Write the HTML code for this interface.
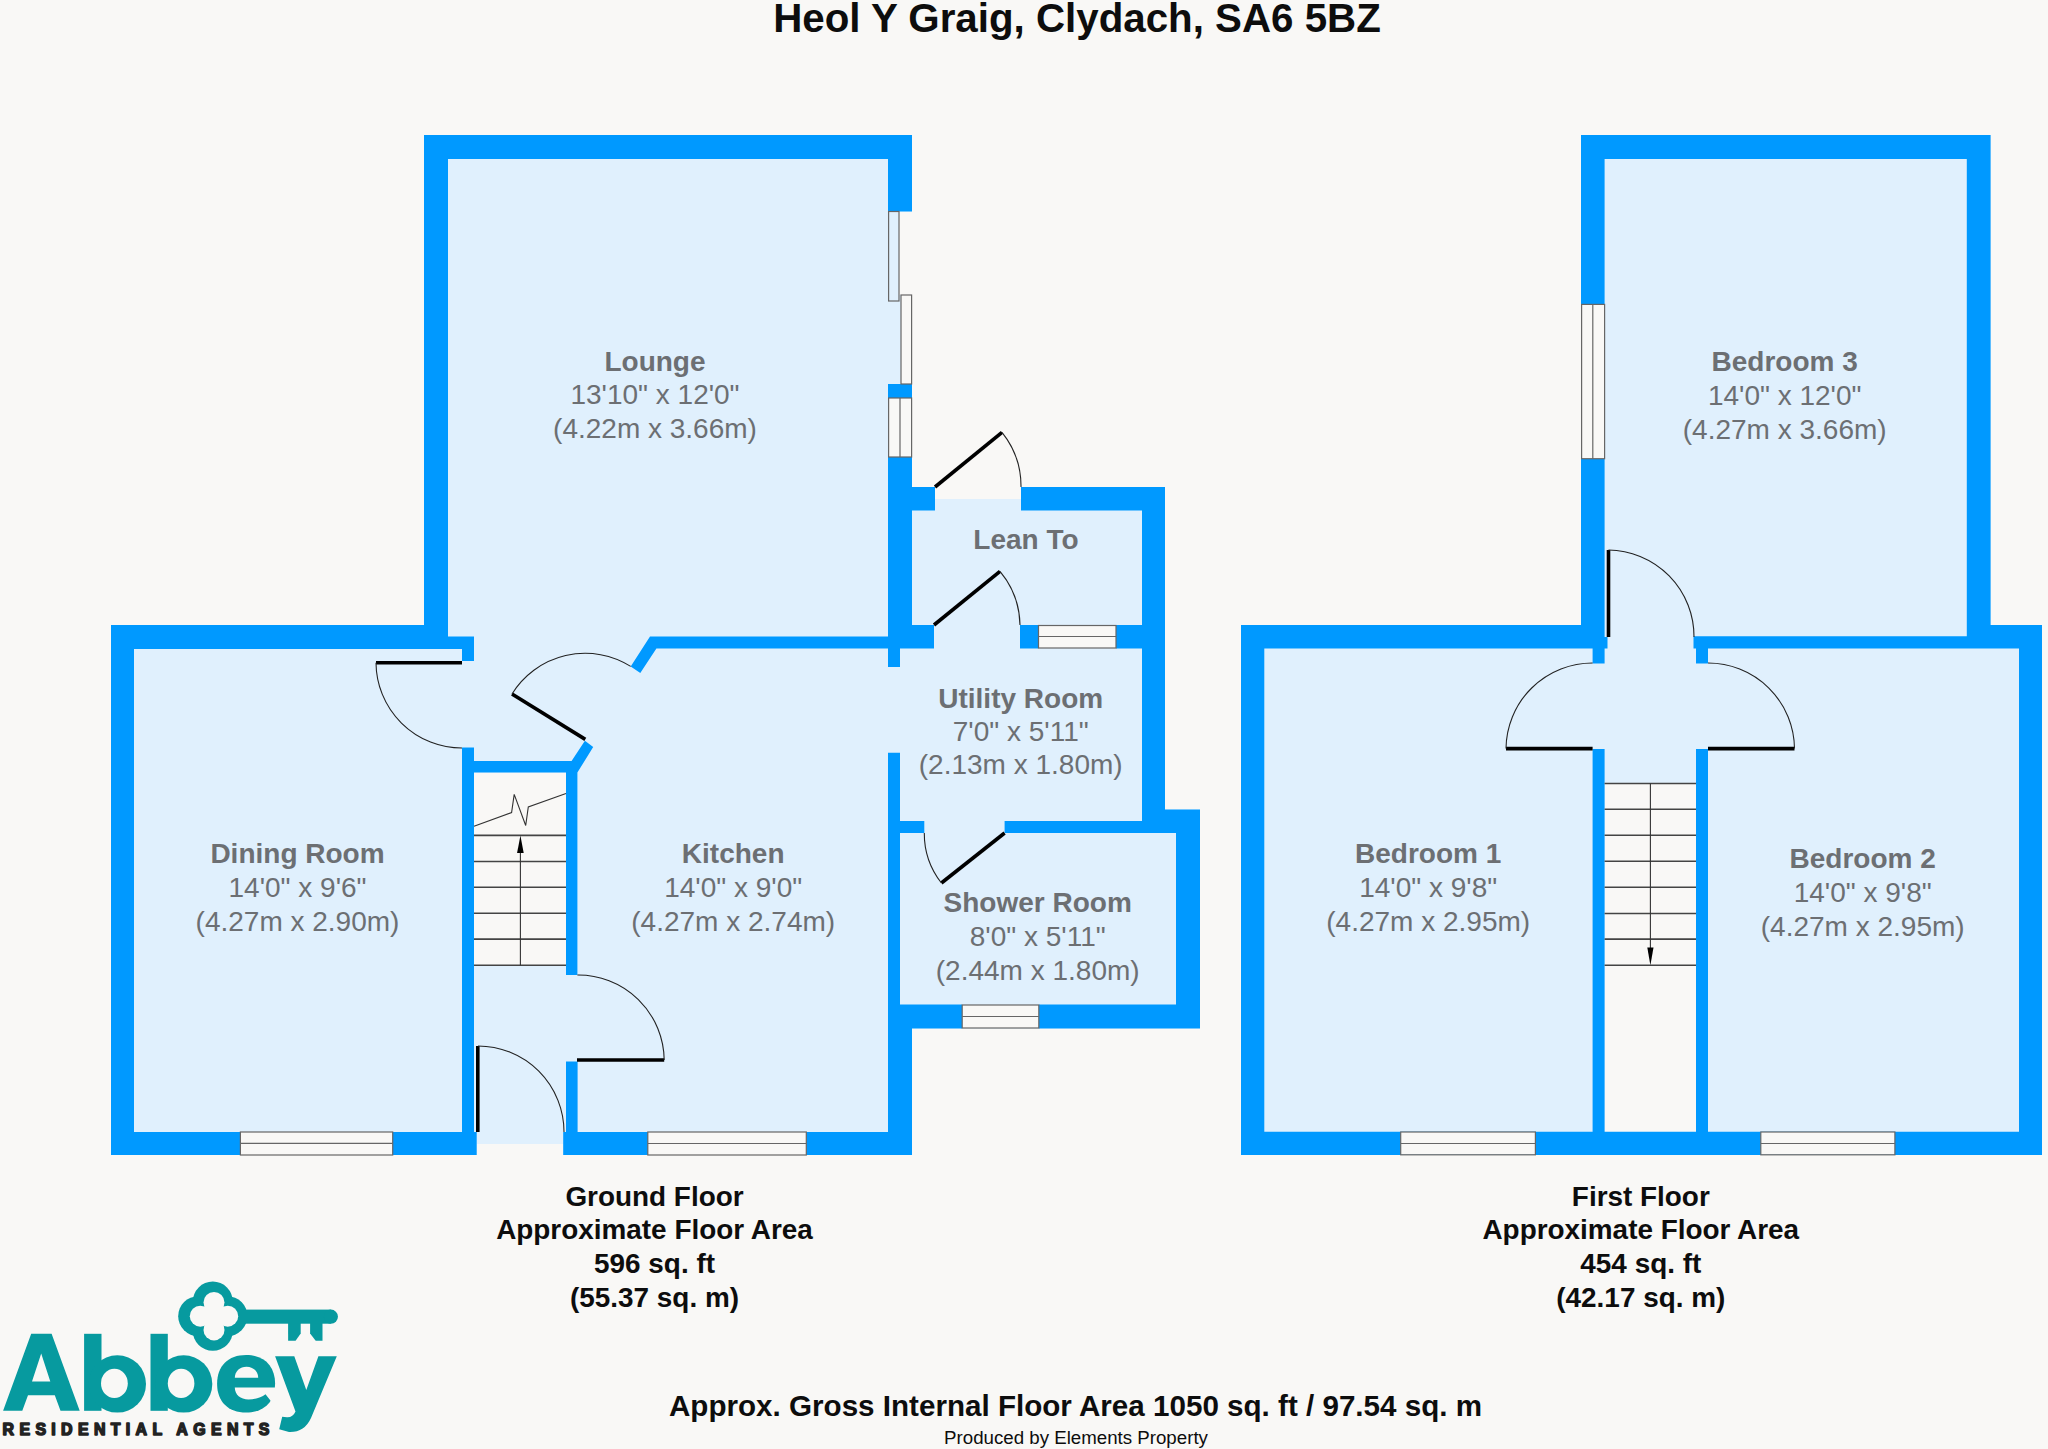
<!DOCTYPE html>
<html><head><meta charset="utf-8"><title>Heol Y Graig, Clydach, SA6 5BZ</title>
<style>
html,body{margin:0;padding:0;background:#f9f8f6;}
body{width:2048px;height:1449px;overflow:hidden;}
svg{display:block;}
.w{fill:#0099ff;}
.f{fill:#e0f0fd;}
.bg{fill:#f9f8f6;}
.win{fill:#f9f8f6;stroke:#666;stroke-width:1.2;}
.wl{stroke:#666;stroke-width:1.2;fill:none;}
.door{stroke:#000;stroke-width:3.6;fill:none;}
.arc{stroke:#222;stroke-width:1.1;fill:none;}
.st{stroke:#444;stroke-width:1.6;fill:none;}
.stc{stroke:#333;stroke-width:1.1;fill:none;}
.lbl{font-family:"Liberation Sans",sans-serif;fill:#6c6f73;text-anchor:middle;}
.b{font-weight:bold;}
.blk{font-family:"Liberation Sans",sans-serif;fill:#0d0d0d;text-anchor:middle;font-weight:bold;}
</style></head>
<body>
<svg width="2048" height="1449" viewBox="0 0 2048 1449">
<rect x="0" y="0" width="2048" height="1449" fill="#f9f8f6"/>

<!-- ===== GROUND FLOOR fills ===== -->
<g id="gf-fill">
<polygon class="f" points="424,135 912,135 912,487 1165,487 1165,809.4 1200,809.4 1200,1028.6 912,1028.6 912,1155 111,1155 111,625 424,625"/>
<!-- exterior door openings background parts -->
<rect class="bg" x="935" y="480" width="86" height="19"/>
<rect class="bg" x="476.7" y="1144" width="86.5" height="12"/>
<!-- right of sliding panel W1 -->
<rect class="bg" x="899" y="211.5" width="14" height="83.5"/>
<!-- stairs -->
<rect class="bg" x="474" y="772.6" width="92" height="192.6"/>
</g>

<g id="gf-walls">
<path class="w" d="M424,135h488v24h-488ZM424,135h24v514h-24ZM888,135h24v76.5h-24ZM888,384h24v14h-24ZM888,457h24v191.5h-24ZM912,487h23v23.5h-23ZM1021,487h144v23.5h-144ZM1142,487h23v334h-23ZM912,625h22v23.5h-22ZM1020,625h18.5v23.5h-18.5ZM1116,625h26v23.5h-26ZM888,648h12v19h-12ZM888,752.7h12v276h-12ZM900,821h24.3v12h-24.3ZM1004.6,821h195.4v12h-195.4ZM1142,809.4h58v23.6h-58ZM1176,809.4h24v219.2h-24ZM888,1004.6h74.2v24h-74.2ZM1038.8,1004.6h161.2v24h-161.2ZM888,1004.6h24v150.4h-24ZM111,625h337v24h-337ZM448,636.5h26v12.5h-26ZM462,648h12v13h-12ZM111,625h23v530h-23ZM111,1132h365.7v23h-365.7ZM462,747.4h12v385h-12ZM566,761h11.4v214h-11.4ZM566,1061.6h11.6v71h-11.6ZM563.2,1132h348.8v23h-348.8ZM650,636.5L888,636.5L888,648.5L656.4,648.5L640.3,673L630.7,666.4ZM474,761L571.6,761L584.9,740.8L593.2,746.9L577.4,772.6L474,772.6Z"/>
<!-- lounge -->
<!-- lean-to -->
<!-- utility / shower -->
<!-- kitchen top thin wall -->
<!-- dining -->
<!-- stairs -->
<!-- kitchen bottom -->
<!-- windows -->
<rect x="888.6" y="211.5" width="10.4" height="89.5" fill="#e0f0fd" stroke="#666" stroke-width="1.2"/>
<rect class="win" x="901" y="295" width="10.6" height="89"/>
<rect class="win" x="888.6" y="398" width="23" height="59"/>
<line class="wl" x1="900" y1="398" x2="900" y2="457"/>
<rect class="win" x="1038.5" y="625.5" width="77.5" height="22.5"/>
<line class="wl" x1="1038.5" y1="636.5" x2="1116" y2="636.5"/>
<rect class="win" x="962.2" y="1005" width="76.6" height="23"/>
<line class="wl" x1="962.2" y1="1016.5" x2="1038.8" y2="1016.5"/>
<rect class="win" x="240.4" y="1132" width="152.3" height="23"/>
<line class="wl" x1="240.4" y1="1143.4" x2="392.7" y2="1143.4"/>
<rect class="win" x="647.8" y="1132" width="158.5" height="23"/>
<line class="wl" x1="647.8" y1="1143.5" x2="806.3" y2="1143.5"/>
</g>

<g id="gf-details">
<!-- stairs treads -->
<path class="st" d="M474,835.4H566M474,861.5H566M474,887.3H566M474,913.3H566M474,939.1H566M474,965.2H566"/>
<line class="stc" x1="520.4" y1="852" x2="520.4" y2="965.2"/>
<polygon points="520.4,835.4 517.1,853 523.7,853" fill="#000"/>
<polyline class="stc" points="474,826.3 511.6,812.6 514.2,794.4 525.7,825.5 528.3,807 566,793.4"/>
<!-- doors -->
<line class="door" x1="935" y1="487" x2="1002" y2="432.3"/>
<path class="arc" d="M1002,432.3 A86,86 0 0 1 1021,487"/>
<line class="door" x1="934" y1="625" x2="1000" y2="571.3"/>
<path class="arc" d="M1000,571.3 A86,86 0 0 1 1020,625"/>
<line class="door" x1="1004.6" y1="833" x2="941.4" y2="883"/>
<path class="arc" d="M924.3,833 A80.3,80.3 0 0 0 941.4,883"/>
<line class="door" x1="376" y1="662.7" x2="462" y2="662.7"/>
<path class="arc" d="M376,662.7 A86,86 0 0 0 462,748"/>
<line class="door" x1="512" y1="694" x2="585.3" y2="739.4"/>
<path class="arc" d="M512,694 A86,86 0 0 1 630.7,666.4"/>
<line class="door" x1="577" y1="1060" x2="664.2" y2="1060"/>
<path class="arc" d="M577.4,975 A86,86 0 0 1 664.2,1060"/>
<line class="door" x1="477.8" y1="1046" x2="477.8" y2="1132"/>
<path class="arc" d="M478,1046 A86,86 0 0 1 564,1132"/>
</g>

<g id="ff">
<polygon class="f" points="1581,135 1990.6,135 1990.6,625 2042,625 2042,1155 1241,1155 1241,625 1581,625"/>
<rect class="bg" x="1604.6" y="783.5" width="91.4" height="348.5"/>
<path class="w" d="M1581,135h409.6v24h-409.6ZM1581,135h23.6v169.4h-23.6ZM1581,458.7h23.6v189.3h-23.6ZM1966.8,135h23.8v513.4h-23.8ZM1241,625h363.6v23.5h-363.6ZM1604,637h3.5v11.5h-3.5ZM1592.6,648h12v15.4h-12ZM1693.5,636.3h348.5v12.1h-348.5ZM1966.8,625h75.2v23.4h-75.2ZM1696,648h12v15.4h-12ZM1241,625h23.3v530h-23.3ZM2019,625h23v530h-23ZM1241,1131.8h801v23.2h-801ZM1592.6,749h12v383h-12ZM1696,749h12v383h-12Z"/>
<!-- walls -->
<!-- windows -->
<rect class="win" x="1581.6" y="304.4" width="23" height="154.3"/>
<line class="wl" x1="1592.8" y1="304.4" x2="1592.8" y2="458.7"/>
<rect class="win" x="1400.7" y="1132" width="134.7" height="22.8"/>
<line class="wl" x1="1400.7" y1="1143.5" x2="1535.4" y2="1143.5"/>
<rect class="win" x="1760.8" y="1132" width="134.1" height="22.8"/>
<line class="wl" x1="1760.8" y1="1143.5" x2="1894.9" y2="1143.5"/>
<!-- stairs -->
<path class="st" d="M1604.6,783.5H1696M1604.6,809.2H1696M1604.6,835.3H1696M1604.6,861.3H1696M1604.6,887.2H1696M1604.6,913.5H1696M1604.6,939.1H1696M1604.6,965.3H1696"/>
<line class="stc" x1="1650.4" y1="783.5" x2="1650.4" y2="948"/>
<polygon points="1647.3,947.4 1653.5,947.4 1650.4,965.3" fill="#000"/>
<!-- doors -->
<line class="door" x1="1608.5" y1="550" x2="1608.5" y2="637"/>
<path class="arc" d="M1608.5,550 A86.5,86.5 0 0 1 1694,637"/>
<line class="door" x1="1506" y1="748.6" x2="1592.6" y2="748.6"/>
<path class="arc" d="M1506,748.6 A86.6,86.6 0 0 1 1592.6,663"/>
<line class="door" x1="1708" y1="748.6" x2="1794.5" y2="748.6"/>
<path class="arc" d="M1708,663 A86.5,86.5 0 0 1 1794.5,748.6"/>
</g>

<g id="text">
<text class="blk" x="1077" y="31.6" font-size="40.3">Heol Y Graig, Clydach, SA6 5BZ</text>

<g class="lbl" font-size="28">
<text class="b" x="655" y="371">Lounge</text>
<text x="655" y="404.4">13'10" x 12'0"</text>
<text x="655" y="438.4">(4.22m x 3.66m)</text>

<text class="b" x="1026" y="548.6">Lean To</text>

<text class="b" x="1020.7" y="708">Utility Room</text>
<text x="1020.7" y="740.8">7'0" x 5'11"</text>
<text x="1020.7" y="773.7">(2.13m x 1.80m)</text>

<text class="b" x="297.5" y="863.4">Dining Room</text>
<text x="297.5" y="896.8">14'0" x 9'6"</text>
<text x="297.5" y="930.8">(4.27m x 2.90m)</text>

<text class="b" x="733.2" y="863.4">Kitchen</text>
<text x="733.2" y="896.8">14'0" x 9'0"</text>
<text x="733.2" y="930.8">(4.27m x 2.74m)</text>

<text class="b" x="1037.7" y="911.9">Shower Room</text>
<text x="1037.7" y="946">8'0" x 5'11"</text>
<text x="1037.7" y="980.2">(2.44m x 1.80m)</text>

<text class="b" x="1784.7" y="371">Bedroom 3</text>
<text x="1784.7" y="405.2">14'0" x 12'0"</text>
<text x="1784.7" y="438.8">(4.27m x 3.66m)</text>

<text class="b" x="1428.2" y="863.4">Bedroom 1</text>
<text x="1428.2" y="896.8">14'0" x 9'8"</text>
<text x="1428.2" y="930.8">(4.27m x 2.95m)</text>

<text class="b" x="1862.7" y="868.4">Bedroom 2</text>
<text x="1862.7" y="901.8">14'0" x 9'8"</text>
<text x="1862.7" y="935.8">(4.27m x 2.95m)</text>
</g>

<g class="blk" font-size="27.9">
<text x="654.5" y="1205.7">Ground Floor</text>
<text x="654.5" y="1239.4">Approximate Floor Area</text>
<text x="654.5" y="1272.8">596 sq. ft</text>
<text x="654.5" y="1306.8">(55.37 sq. m)</text>
<text x="1640.8" y="1205.7">First Floor</text>
<text x="1640.8" y="1239.4">Approximate Floor Area</text>
<text x="1640.8" y="1272.8">454 sq. ft</text>
<text x="1640.8" y="1306.8">(42.17 sq. m)</text>
</g>
<text class="blk" x="1075.5" y="1416.1" font-size="29.6">Approx. Gross Internal Floor Area 1050 sq. ft / 97.54 sq. m</text>
<text x="1076" y="1443.6" font-size="18.7" font-family="Liberation Sans, sans-serif" fill="#0d0d0d" text-anchor="middle">Produced by Elements Property</text>
</g>

<g id="logo">
<g fill="#079a9f">
<!-- A -->
<path fill-rule="evenodd" d="M3.1,1410.8 L31.2,1333.8 L51.6,1333.8 L79.7,1410.8 L60.5,1410.8 L54.8,1395.2 L28,1395.2 L22.3,1410.8 Z M32,1381.4 L50.3,1381.4 L41.2,1353.4 Z"/>
<!-- b -->
<rect x="84.1" y="1333.8" width="17.4" height="77"/>
<ellipse cx="117.3" cy="1383.9" rx="28.7" ry="28.7"/>
<rect x="150.5" y="1333.8" width="17.3" height="77"/>
<ellipse cx="183.6" cy="1383.9" rx="28.7" ry="28.7"/>
<!-- e -->
<path d="M217.1,1383.8 C217.1,1365.9 228.1,1355.0 246.1,1355.0 C264.1,1355.0 275.1,1365.9 275.1,1383.8 C275.1,1401.7 264.1,1412.6 246.1,1412.6 C228.1,1412.6 217.1,1401.7 217.1,1383.8 Z"/>
<!-- y -->
<path d="M275.1,1356.2 L294.3,1356.2 L306.3,1390 L318.4,1356.2 L336.8,1356.2 L311,1418 Q304.5,1432.5 289,1432 L279.2,1429.2 L282.2,1416.7 L287,1417.3 Q292.8,1417.6 295.5,1411.5 Z"/>
<!-- key bow -->
<circle cx="212.8" cy="1301.6" r="20"/>
<circle cx="212.8" cy="1330.8" r="20"/>
<circle cx="198.2" cy="1316.2" r="20"/>
<circle cx="227.4" cy="1316.2" r="20"/>
<!-- shaft -->
<rect x="240" y="1309.6" width="90.9" height="14.1"/>
<circle cx="330.9" cy="1316.65" r="7.05"/>
<path d="M288.1,1323 L300.7,1323 L300.7,1333.5 L295.6,1340.8 L288.1,1340.8 Z"/>
<path d="M310.1,1323 L322.5,1323 L322.5,1340.8 L315.7,1340.8 L310.1,1333.5 Z"/>
</g>
<g fill="#f9f8f6">
<ellipse cx="114.4" cy="1383.4" rx="13.4" ry="14.6"/>
<ellipse cx="181.1" cy="1383.4" rx="13.3" ry="14.6"/>
<path d="M234.8,1377.8 C234.8,1371.2 240,1366.7 246.5,1366.7 C253,1366.7 258.2,1371.2 258.2,1377.8 Z"/>
<path d="M234.8,1387.4 L280,1387.4 L280,1406 L272.6,1403.2 L265.5,1394.2 C261,1397.6 255,1399.4 248.5,1399.4 C240.5,1399.4 234.8,1394.5 234.8,1387.4 Z"/>
<circle cx="214" cy="1302.5" r="10.5"/>
<circle cx="214" cy="1329.9" r="10.5"/>
<circle cx="200.3" cy="1316.2" r="10.5"/>
<circle cx="227.7" cy="1316.2" r="10.5"/>
<circle cx="214" cy="1316.2" r="13"/>
</g>
<text x="2.6" y="1434.6" font-family="Liberation Sans, sans-serif" font-weight="bold" font-size="15.9" fill="#222" stroke="#222" stroke-width="1.5" stroke-linejoin="round" textLength="266.8" lengthAdjust="spacing">RESIDENTIAL AGENTS</text>
</g>
</svg>
</body></html>
